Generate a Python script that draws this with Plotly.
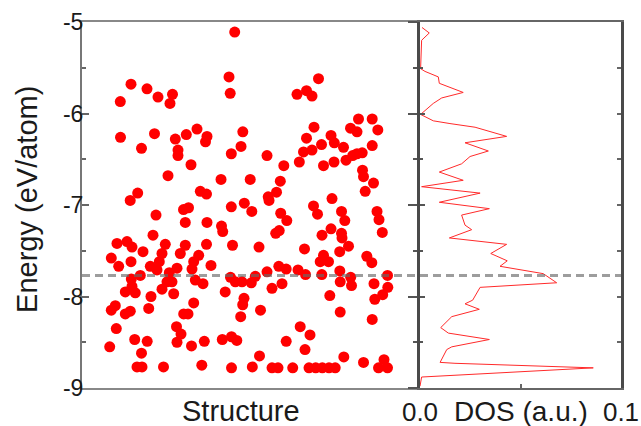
import plotly.graph_objects as go

# ---------------- data ----------------
structure = [49, 65, 76, 90.5, 88, 38.3, 38.5, 72.5, 59.5, 93.3, 104.3, 115, 96, 96, 109, 86, 55.7, 48.2, 74, 101.5, 106.5, 103.3,
             152.7, 147, 148.2, 215, 224.5, 230, 236.5, 125, 123.5, 160.8, 159, 149.3, 185, 201.8, 217.3, 221.5, 224.5, 232,
             139, 168.2, 198.3, 194.5, 186.2, 118.3, 124.5, 149.3, 162.3, 169.8, 187, 198.7, 204.8, 125, 139.5, 140.7, 193.7, 197.2,
             230, 239.5, 249, 252.3, 261.5, 241.5, 252, 264, 270.7, 275, 280.2, 268.5, 276.5, 275, 290.2, 295.8, 290.2,
             280.5, 281.5, 291.5, 283.2, 250, 231.5, 235.5, 259.5, 262.8, 295, 297, 300.3,
             71, 35, 45, 50, 61, 83.3, 80, 103.3, 98.3, 29.3, 49, 36.7, 68.3, 77.3, 75, 95, 111.7, 110, 58.3, 49.3, 87.3, 85, 90,
             113.3, 50, 43.3, 53.3, 80, 91.7, 69, 33.3, 29.3, 66.7, 48.3, 43.3, 111.7, 101.7, 106, 34.3, 94.5, 99, 95, 109.5,
             27.7, 52.7, 65.2, 59.5, 55, 60, 81.5, 119.8,
             124.5, 150.5, 177, 116.7, 129, 121, 148.5, 153.3, 160, 169.3, 173.3, 185, 196.8, 204.2, 200, 190, 216, 223.5,
             143.2, 162, 160.7, 178.5, 158.7, 218.2, 228, 122.3, 140.3, 149.5, 154.8, 204.2, 223, 177.5, 149.5, 170.3,
             190, 196, 210.7, 227, 233.7, 240.3, 247, 253.2,
             240, 249, 259.5, 260, 266.5, 257.7, 222.5, 241.5, 238.2, 246.5, 284.8, 289.8, 239.8, 257.8, 258.2, 268.7, 269.5,
             292, 305.5, 305.8, 300.7, 292.8, 247.8, 258.2, 290.2, 261.8, 281.5, 302, 296.5, 305.5]

energy = [-5.68, -5.73, -5.82, -5.79, -5.89, -5.87, -6.26, -6.22, -6.38, -6.28, -6.23, -6.17, -6.40, -6.46, -6.56, -6.68,
          -6.87, -6.95, -7.11, -7.05, -7.03, -7.19,
          -5.11, -5.60, -5.78, -5.79, -5.75, -5.81, -5.62, -6.25, -6.31, -6.20, -6.36, -6.44, -6.46, -6.57, -6.53, -6.42,
          -6.27, -6.15, -6.72, -6.72, -6.74, -6.86, -6.91, -6.85, -6.88, -7.02, -6.98, -7.07, -6.95, -7.09, -7.17, -7.19,
          -7.23, -7.29, -7.31, -7.28,
          -6.40, -6.34, -6.24, -6.32, -6.37, -6.57, -6.53, -6.51, -6.46, -6.44, -6.43, -6.16, -6.06, -6.20, -6.06, -6.18,
          -6.35, -6.62, -6.69, -6.76, -6.85, -6.93, -7.01, -7.10, -7.07, -7.17, -7.07, -7.16, -7.30,
          -7.33, -7.42, -7.40, -7.46, -7.51, -7.43, -7.53, -7.44, -7.53, -7.58, -7.62, -7.67, -7.67, -7.62, -7.71, -7.69,
          -7.62, -7.70, -7.77, -7.81, -7.74, -7.84, -7.84, -7.82, -7.89, -7.95, -7.96, -7.92, -7.97, -8.00, -8.10, -8.15,
          -8.13, -8.16, -8.19, -8.07, -8.19, -8.19, -8.35, -8.33, -8.41, -8.50, -8.54, -8.55, -8.47, -8.49, -8.62, -8.77,
          -8.77, -8.77, -8.75,
          -7.43, -7.44, -7.46, -7.55, -7.66, -7.86, -7.79, -7.84, -7.84, -7.85, -7.78, -7.73, -7.67, -7.70, -7.86, -7.91,
          -7.71, -7.76, -7.95, -8.02, -8.09, -8.15, -8.22, -8.33, -8.42, -8.49, -8.47, -8.44, -8.48, -8.49, -8.58, -8.65,
          -8.78, -8.77, -8.78, -8.78, -8.78, -8.78, -8.78, -8.78, -8.78, -8.78,
          -7.33, -7.26, -7.31, -7.36, -7.45, -7.51, -7.48, -7.55, -7.62, -7.62, -7.56, -7.63, -7.76, -7.72, -7.84, -7.79,
          -7.88, -7.86, -7.77, -7.90, -7.98, -8.03, -7.99, -8.17, -8.25, -8.66, -8.72, -8.69, -8.78, -8.78]

dos_energy = [-5.06, -5.12, -5.20, -5.51, -5.54, -5.60, -5.67, -5.77, -5.83, -5.89,
              -6.01, -6.08, -6.11, -6.15, -6.25, -6.32, -6.41, -6.47, -6.55, -6.64,
              -6.73, -6.80, -6.87, -6.97, -7.04, -7.11, -7.22, -7.27, -7.36, -7.43,
              -7.53, -7.61, -7.67, -7.75, -7.85, -7.90, -8.04, -8.08, -8.14, -8.22,
              -8.34, -8.40, -8.47, -8.55, -8.58, -8.72, -8.73, -8.78, -8.88, -8.98]
dos = [0.001, 0.0046, 0.0008, 0.0003, 0.0025, 0.0091, 0.0096, 0.0215, 0.0108, 0.0066,
       0.0003, 0.0066, 0.0149, 0.0274, 0.0431, 0.0224, 0.0340, 0.0249, 0.0207, 0.0096,
       0.0215, 0.0008, 0.0299, 0.0096, 0.0345, 0.0207, 0.0224, 0.0257, 0.0146, 0.0431,
       0.0352, 0.0434, 0.0398, 0.0613, 0.0680, 0.0299, 0.0262, 0.0224, 0.0295, 0.0158,
       0.0103, 0.0141, 0.0345, 0.0158, 0.0133, 0.0100, 0.0174, 0.0862, 0.0008, 0.0]

mean_energy = -7.77

y_tickvals = [-9, -8, -7, -6, -5]
y_ticktext = ["-9", "-8", "-7", "-6", "-5"]
y_minor = [-8.5, -7.5, -6.5, -5.5]
x2_tickvals = [0, 0.1]
x2_ticktext = ["0.0", "0.1"]

FONT = "Liberation Sans, Arial, sans-serif"
TXT = "#1a1a1a"
AX = "#666666"

fig = go.Figure()
fig.add_trace(go.Scatter(x=structure, y=energy, mode="markers",
                         marker=dict(color="#ff0000", size=11, line=dict(width=0)),
                         xaxis="x", yaxis="y", hoverinfo="skip"))
fig.add_trace(go.Scatter(x=dos, y=dos_energy, mode="lines",
                         line=dict(color="#ff2a2a", width=1),
                         xaxis="x2", yaxis="y2", hoverinfo="skip"))
# helper empty traces so the overlay tick axes are drawn
fig.add_trace(go.Scatter(x=[None], y=[None], xaxis="x2", yaxis="y3", showlegend=False))
fig.add_trace(go.Scatter(x=[None], y=[None], xaxis="x2", yaxis="y4", showlegend=False))

common_y = dict(range=[-9, -5], showgrid=False, zeroline=False, automargin=False)

fig.update_layout(
    width=641, height=426,
    margin=dict(l=82, r=20, t=22, b=38, autoexpand=False),
    paper_bgcolor="white", plot_bgcolor="white",
    showlegend=False,
    font=dict(family=FONT, color=TXT),
    xaxis=dict(domain=[0, 0.6234], range=[0, 336], showgrid=False, zeroline=False, automargin=False,
               showticklabels=False, ticks="", showline=True, mirror=True,
               linecolor="#888888", linewidth=2),
    yaxis=dict(**common_y, anchor="x", tickmode="array", tickvals=y_tickvals, ticktext=y_ticktext,
               ticks="inside", ticklen=7, tickwidth=1.5, tickcolor=AX,
               minor=dict(tickmode="array", tickvals=y_minor, ticks="inside", ticklen=4,
                          tickwidth=1.5, tickcolor=AX),
               tickfont=dict(size=23, color=TXT, family=FONT), ticklabelstandoff=-8,
               showline=True, mirror=True, linecolor="#777777", linewidth=2),
    xaxis2=dict(domain=[0.6271, 1], anchor="y2", range=[0, 0.1], showgrid=False, zeroline=False,
                automargin=False,
                tickmode="array", tickvals=x2_tickvals, ticktext=x2_ticktext, ticks="",
                minor=dict(tickmode="array", tickvals=[0.05], ticks="inside", ticklen=4,
                           tickwidth=1.5, tickcolor=AX),
                tickfont=dict(size=26, color=TXT, family=FONT),
                showline=True, mirror=True, linecolor=AX, linewidth=1.5),
    yaxis2=dict(**common_y, anchor="x2", tickmode="array", tickvals=y_tickvals, showticklabels=False,
                ticks="outside", ticklen=9, tickwidth=1.5, tickcolor="#555555",
                minor=dict(tickmode="array", tickvals=y_minor, ticks="outside", ticklen=4,
                           tickwidth=1.5, tickcolor="#555555"),
                showline=True, mirror=True, linecolor="#4a4a4a", linewidth=3),
    yaxis3=dict(**common_y, overlaying="y2", anchor="x2", side="right", tickmode="array",
                tickvals=y_tickvals, showticklabels=False, ticks="inside", ticklen=4,
                tickwidth=1.5, tickcolor=AX, showline=False,
                minor=dict(tickmode="array", tickvals=y_minor, ticks="inside", ticklen=4,
                           tickwidth=1.5, tickcolor=AX)),
    yaxis4=dict(**common_y, overlaying="y2", anchor="x2", side="left", tickmode="array",
                tickvals=y_tickvals, showticklabels=False, ticks="inside", ticklen=5,
                tickwidth=1.5, tickcolor="#555555", showline=False,
                minor=dict(tickmode="array", tickvals=y_minor, ticks="inside", ticklen=3,
                           tickwidth=1.5, tickcolor="#555555")),
    shapes=[dict(type="line", xref="paper", yref="y", x0=0, x1=1, y0=mean_energy, y1=mean_energy,
                 line=dict(color="rgba(105,105,105,0.65)", width=3, dash="8px,5px"), layer="above")],
    annotations=[
        dict(text="Energy (eV/atom)", xref="paper", yref="paper", x=-0.102, y=0.514,
             xanchor="center", yanchor="middle", textangle=-90, showarrow=False,
             font=dict(size=29, color=TXT, family=FONT)),
        dict(text="Structure", xref="paper", yref="paper", x=0.295, y=-0.064,
             xanchor="center", yanchor="middle", showarrow=False,
             font=dict(size=29, color=TXT, family=FONT)),
        dict(text="DOS (a.u.)", xref="paper", yref="paper", x=0.8145, y=-0.064,
             xanchor="center", yanchor="middle", showarrow=False,
             font=dict(size=28, color=TXT, family=FONT)),
    ],
)

fig.write_html("out.html")
